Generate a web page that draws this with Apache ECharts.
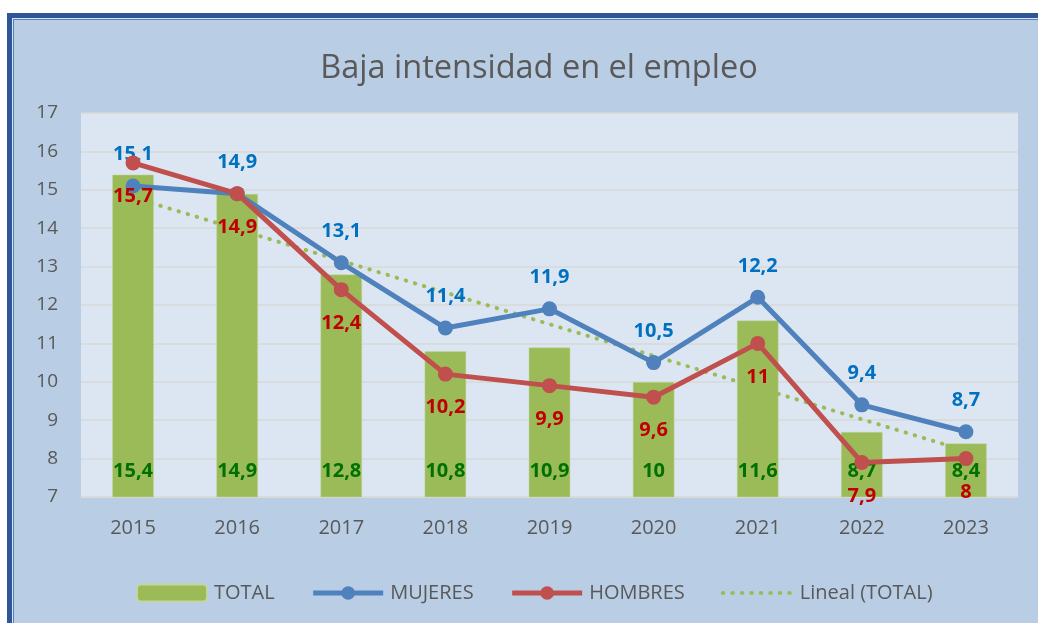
<!DOCTYPE html>
<html>
<head>
<meta charset="utf-8">
<script src="https://cdn.jsdelivr.net/npm/echarts@6/dist/echarts.min.js"></script>
<style>
  html, body { margin: 0; padding: 0; background: #ffffff; overflow: hidden; }
  .frame { position: absolute; left: 7px; top: 13px; width: 1100px; height: 700px;
           border: 5px solid #2f5597; background: #dbe5f1; padding: 1px; box-sizing: border-box; }
  .inner { width: 100%; height: 100%; border: 1px solid #4f81bd; background: #b9cde5; box-sizing: border-box; }
  #main { position: absolute; left: 0; top: 0; width: 1038px; height: 623px; }
</style>
</head>
<body>
<div class="frame"><div class="inner"></div></div>
<div id="main"></div>
<script>
const years = ['2015', '2016', '2017', '2018', '2019', '2020', '2021', '2022', '2023']
const total = [15.4, 14.9, 12.8, 10.8, 10.9, 10, 11.6, 8.7, 8.4]
const mujeres = [15.1, 14.9, 13.1, 11.4, 11.9, 10.5, 12.2, 9.4, 8.7]
const hombres = [15.7, 14.9, 12.4, 10.2, 9.9, 9.6, 11, 7.9, 8]
// linea de tendencia: solo extremos
const tendencia = [14.8, null, null, null, null, null, null, null, 8.2]

const fuente = '"Open Sans", "Noto Sans", sans-serif'
const coma = p => String(p.value).replace('.', ',')

const chart = echarts.init(document.getElementById('main'))

const option = {
  backgroundColor: 'transparent',
  textStyle: { fontFamily: fuente },
  animation: false,
  title: {
    text: 'Baja intensidad en el empleo',
    left: 534,
    top: 47,
    textAlign: 'center',
    textStyle: { fontFamily: fuente, fontSize: 32.5, fontWeight: 'normal', color: '#595959' }
  },
  legend: {
    left: 131,
    top: 578,
    itemWidth: 70,
    itemHeight: 17,
    itemGap: 36,
    textStyle: { fontFamily: fuente, fontSize: 20, color: '#595959', padding: [0, 0, 0, 2] },
    data: [
      { name: 'TOTAL' },
      { name: 'MUJERES', lineStyle: { width: 5 } },
      { name: 'HOMBRES', lineStyle: { width: 5 } },
      { name: 'Lineal (TOTAL)', lineStyle: { width: 4 }, itemStyle: { opacity: 0 } }
    ]
  },
  grid: {
    left: 81, right: 20, top: 113, bottom: 126,
    show: true, backgroundColor: '#dce6f2', borderWidth: 0
  },
  xAxis: {
    type: 'category',
    data: years,
    axisLine: { show: true, lineStyle: { color: '#d9d9d9', width: 1 } },
    axisTick: { show: false },
    axisLabel: { fontSize: 20, color: '#595959', margin: 21 }
  },
  yAxis: {
    type: 'value',
    min: 7, max: 17, interval: 1,
    axisLine: { show: false },
    axisTick: { show: false },
    axisLabel: { fontSize: 19, color: '#595959', margin: 23 },
    splitLine: { lineStyle: { color: '#d9d9d9', width: 1.5 } }
  },
  series: [
    {
      name: 'TOTAL',
      type: 'bar',
      data: total,
      barWidth: 42,
      itemStyle: { color: '#9bbb59', borderColor: '#c3d69b', borderWidth: 1, borderType: 'dotted' },
      label: {
        show: true, position: 'insideBottom', distance: 16,
        formatter: coma, fontSize: 20, fontWeight: 'bold', color: '#007000'
      },
      z: 1
    },
    {
      name: 'Lineal (TOTAL)',
      type: 'line',
      data: tendencia,
      connectNulls: true,
      symbol: 'none',
      lineStyle: { color: '#9bbb59', width: 4, type: [0.5, 9], cap: 'round' },
      itemStyle: { color: '#9bbb59' },
      z: 2
    },
    {
      name: 'MUJERES',
      type: 'line',
      data: mujeres,
      symbol: 'circle',
      symbolSize: 15,
      lineStyle: { color: '#4f81bd', width: 5 },
      itemStyle: { color: '#4f81bd' },
      label: {
        show: true, position: 'top', distance: 14,
        formatter: coma, fontSize: 20, fontWeight: 'bold', color: '#0070c0'
      },
      z: 3
    },
    {
      name: 'HOMBRES',
      type: 'line',
      data: hombres,
      symbol: 'circle',
      symbolSize: 15,
      lineStyle: { color: '#c0504d', width: 5 },
      itemStyle: { color: '#c0504d' },
      label: {
        show: true, position: 'bottom', distance: 16,
        formatter: coma, fontSize: 20, fontWeight: 'bold', color: '#c00000'
      },
      z: 4
    }
  ]
}

chart.setOption(option)
</script>
</body>
</html>
